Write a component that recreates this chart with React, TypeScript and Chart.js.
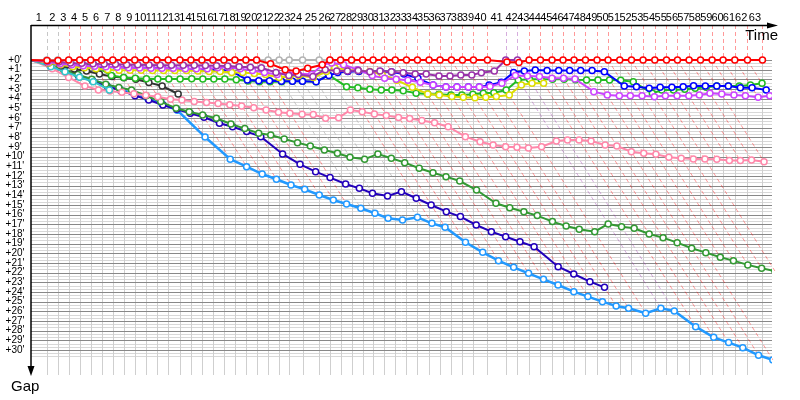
import React, { useEffect, useRef } from "react";
import { Chart, registerables } from "chart.js";

Chart.register(...registerables);

// Leader lap times (minutes), laps 1..63
const lapTimes = [
  2.60, 1.82, 1.82, 1.82, 1.82, 1.82, 1.84, 1.82, 1.82, 1.85,
  1.82, 1.87, 1.94, 1.82, 1.82, 1.82, 1.82, 1.82, 1.82, 1.77,
  1.92, 1.82, 1.66, 2.22, 2.75, 1.77, 1.77, 1.82, 1.82, 1.75,
  1.82, 1.85, 1.85, 1.82, 1.92, 1.82, 1.89, 1.82, 1.82, 2.32,
  3.03, 1.94, 1.92, 1.89, 1.92, 1.82, 1.82, 1.89, 1.92, 1.82,
  1.94, 1.94, 1.92, 1.94, 1.94, 1.82, 1.92, 1.89, 1.92, 1.82,
  1.94, 2.10, 2.48,
];

const gapTicks = [0, 1, 2, 3, 4, 5, 6, 7, 8, 9, 10, 11, 12, 13, 14, 15, 16, 17, 18, 19, 20, 21, 22, 23, 24, 25, 26, 27, 28, 29, 30];
const lapLabels = lapTimes.map((_, i) => String(i + 1));

// Gaps (minutes) to the leader at each completed lap, lap 0 = start
const redGaps = [0, 0.05, 0.05,
  0, 0, 0, 0, 0, 0, 0, 0, 0, 0, 0, 0, 0, 0, 0, 0, 0, 0,
  0.4, 1.0, 1.15, 0.85, 0.5,
  0, 0, 0, 0, 0, 0, 0, 0, 0, 0, 0, 0, 0, 0, 0,
  0.2, 0.25,
  0, 0, 0, 0, 0, 0, 0, 0, 0, 0, 0, 0, 0, 0, 0, 0, 0, 0, 0, 0, 0];
const grayGaps = [0, 0, 0,
  0.03, 0.03, 0.03, 0.03, 0.03, 0.03, 0.03, 0.03, 0.03, 0.03, 0.03, 0.03, 0.03, 0.03, 0.03, 0.03, 0.03, 0.03,
  0, 0, 0, 0, 0, 0.03, 0.03, 0.03];
const purpleGaps = [0, 0.1, 0.2, 0.3, 0.35, 0.4, 0.42, 0.45, 0.48, 0.5, 0.52,
  0.55, 0.55, 0.55, 0.55, 0.58, 0.6, 0.62, 0.7, 0.75, 0.8,
  1.3, 1.6, 1.5, 1.7, 1.0, 1.14, 1.14, 1.1, 1.21, 1.14,
  1.21, 1.31, 1.45, 1.45, 1.65, 1.65, 1.55, 1.55, 1.31, 1.14,
  0, 0];
const magentaGaps = [0, 0.2, 0.4, 0.5, 0.6, 0.65, 0.7, 0.75, 0.8, 0.82, 0.85,
  0.85, 0.85, 0.9, 0.9, 0.9, 0.8, 0.75, 0.9, 1.1, 1.3,
  1.5, 1.3, 1.4, 1.5, 0.5, 0.3, 0.5, 1.0, 1.6, 1.9,
  2.0, 2.1, 2.3, 2.6, 2.8, 2.8, 2.8, 2.8, 2.75, 2.4,
  1.6, 1.65, 1.72, 1.9, 1.9, 1.97, 3.28, 3.62, 3.69, 3.69,
  3.69, 3.8, 3.69, 3.69, 3.69, 3.62, 3.45, 3.52, 3.62, 3.69,
  3.86, 3.69];
const yellowGaps = [0, 0.3, 0.5, 0.7, 0.8, 0.9, 1.0, 1.05, 1.05, 1.05, 1.1,
  1.1, 1.1, 1.1, 1.15, 1.2, 1.2, 1.3, 1.3, 1.4, 1.5,
  1.8, 1.7, 1.6, 1.8, 1.2, 0.8, 1.0, 1.1, 1.2, 1.5,
  2.1, 2.83, 3.52, 3.62, 3.79, 3.86, 3.9, 3.86, 3.79, 3.62,
  2.59, 2.41, 2.41];
const blueGaps = [0, 0.3, 0.5, 0.6, 0.65, 0.7, 0.75, 0.75, 0.8, 0.8, 0.82,
  0.85, 0.9, 0.9, 0.95, 1.0, 1.0, 1.1, 2.07, 2.14, 2.14,
  2.2, 2.2, 2.2, 2.24, 1.6, 1.3, 1.2, 1.2, 1.25, 1.2,
  1.25, 1.45, 1.9, 2.6, 2.8, 2.8, 2.8, 2.8, 2.6, 2.3,
  1.3, 1.14, 1.03, 1.1, 1.1, 1.1, 1.1, 1.1, 1.21, 2.69,
  2.76, 2.93, 2.83, 2.83, 2.76, 2.66, 2.69, 2.69, 2.69, 2.86,
  2.86, 3.1];
const greenGaps = [0, 0.15, 0.3, 0.4, 0.45, 0.5, 1.6, 1.8, 1.9, 1.93, 1.97,
  1.97, 1.97, 1.95, 1.97, 1.97, 1.97, 2.05, 2.17, 2.24, 2.24,
  2.24, 2.2, 2.2, 2.24, 1.55, 2.76, 2.86, 3.03, 3.1, 3.1,
  3.17, 3.45, 3.52, 3.55, 3.62, 3.62, 3.55, 3.45, 3.38, 3.1,
  2.07, 2.0, 2.0, 2.0, 2.0, 2.05, 2.07, 2.07, 2.07, 2.1,
  2.24, 3.45, 3.1, 3.1, 3.03, 2.93, 2.83, 2.69, 2.69, 2.69,
  2.59, 2.41];
const blackGaps = [0, 0.25, 0.6, 0.93, 1.14, 1.45, 1.72, 1.83, 2.0, 2.34, 2.69, 3.52];
const tealGaps = [0, 0.69, 1.21, 1.79, 2.24, 3.1];
const pinkGaps = [0, 0.9, 1.8, 2.69, 3.1, 3.2, 3.35, 3.5, 3.65, 3.8, 4.07,
  4.14, 4.3, 4.4, 4.5, 4.62, 4.76, 4.95, 5.17, 5.4, 5.52,
  5.62, 5.65, 6.03, 5.97, 5.17, 5.35, 5.6, 5.75, 5.95, 6.05,
  6.25, 6.5, 6.9, 7.93, 8.45, 8.79, 8.97, 9.03, 9.1, 8.97,
  8.38, 8.28, 8.28, 8.38, 8.79, 8.9, 9.49, 9.65, 9.75, 10.07,
  10.17, 10.24, 10.24, 10.27, 10.41, 10.41, 10.34, 10.52];
const darkGreenGaps = [0, 0.5, 1.0, 1.5, 2.0, 2.5, 2.85, 3.1, 3.7, 4.3, 5.0,
  5.35, 5.7, 6.03, 6.62, 7.1, 7.58, 7.76, 8.17, 8.55, 8.9,
  9.31, 9.65, 10.07, 10.27, 9.72, 10.17, 10.62, 11.2, 11.66, 12.07,
  12.52, 13.45, 14.82, 15.28, 15.7, 16.1, 16.72, 17.17, 17.52, 17.76,
  16.96, 17.24, 17.41, 18.0, 18.38, 18.9, 19.48, 19.93, 20.41, 20.76,
  21.2, 21.55, 21.83];
const navyGaps = [0, 0.55, 1.15, 1.7, 2.2, 2.69, 3.17, 3.69, 4.14, 4.66, 5.1,
  5.52, 5.93, 6.55, 6.9, 7.41, 7.93, 9.72, 10.79, 11.55, 12.17,
  12.83, 13.28, 13.79, 14.07, 13.62, 14.3, 15.0, 15.69, 16.2, 17.07,
  17.76, 18.28, 18.8, 19.31, 21.38, 22.14, 22.93, 23.52];
const lightBlueGaps = [0, 0.6, 1.1, 1.6, 2.05, 2.55, 3.0, 3.5, 4.0, 4.5, 5.2,
  7.97, 10.27, 11.04, 11.8, 12.34, 12.93, 13.38, 13.97, 14.48, 14.9,
  15.34, 15.86, 16.38, 16.55, 16.27, 16.9, 17.3, 18.86, 19.9, 20.76,
  21.45, 22.07, 22.69, 23.28, 23.97, 24.48, 25.0, 25.45, 25.69, 26.2,
  25.69, 25.97, 27.59, 28.69, 29.24, 29.76, 30.55, 31.03];

type Series = { name: string; color: string; gaps: number[]; width: number; lapAlpha: number };
const series: Series[] = [
  { name: "red", color: "#ff0000", gaps: redGaps, width: 2, lapAlpha: 0.4 },
  { name: "gray", color: "#b4b4b4", gaps: grayGaps, width: 2, lapAlpha: 0.75 },
  { name: "purple", color: "#9933aa", gaps: purpleGaps, width: 2, lapAlpha: 0.4 },
  { name: "magenta", color: "#cc44ff", gaps: magentaGaps, width: 2, lapAlpha: 0.4 },
  { name: "yellow", color: "#dddd00", gaps: yellowGaps, width: 2, lapAlpha: 0.4 },
  { name: "blue", color: "#0000ff", gaps: blueGaps, width: 2, lapAlpha: 0.4 },
  { name: "green", color: "#22bb22", gaps: greenGaps, width: 2, lapAlpha: 0.4 },
  { name: "black", color: "#333333", gaps: blackGaps, width: 2, lapAlpha: 0.4 },
  { name: "teal", color: "#33c6cc", gaps: tealGaps, width: 2, lapAlpha: 0.4 },
  { name: "pink", color: "#ff88aa", gaps: pinkGaps, width: 2, lapAlpha: 0.4 },
  { name: "darkGreen", color: "#339933", gaps: darkGreenGaps, width: 2, lapAlpha: 0.4 },
  { name: "navy", color: "#2200bb", gaps: navyGaps, width: 2, lapAlpha: 0.4 },
  { name: "lightBlue", color: "#2299ff", gaps: lightBlueGaps, width: 2.5, lapAlpha: 0.4 },
];

const lapStarts: number[] = [0];
lapTimes.forEach((t) => lapStarts.push(lapStarts[lapStarts.length - 1] + t));

function hexToRgba(hex: string, a: number) {
  const n = parseInt(hex.slice(1), 16);
  return `rgba(${(n >> 16) & 255},${(n >> 8) & 255},${n & 255},${a})`;
}

function lapInfo(m: number) {
  let leader: Series | null = null;
  let minG = Infinity;
  let maxG = 0;
  for (const s of series) {
    if (m < s.gaps.length) {
      const g = s.gaps[m];
      if (g < minG) { minG = g; leader = s; }
      if (g > maxG) maxG = g;
    }
  }
  return { leader, maxG };
}

const X_MAX = 122.7;
const Y_MIN = -3.62;
const Y_MAX = 32.59;
const FONT = '"Liberation Sans", Arial, sans-serif';

const gapPlugin = {
  id: "gapChart",
  beforeDatasetsDraw(chart: any) {
    const { ctx, chartArea: a, scales } = chart;
    const X = (v: number) => scales.x.getPixelForValue(v);
    const Y = (v: number) => scales.y.getPixelForValue(v);
    const y0 = Math.round(Y(0)) + 0.5;
    ctx.save();
    ctx.lineWidth = 1;
    ctx.strokeStyle = "#d8d8d8";
    ctx.beginPath();
    for (let k = 1; k < 93; k++) {
      if (k % 3 === 0) continue;
      const yy = Math.round(Y(k / 3)) + 0.5;
      ctx.moveTo(a.left, yy);
      ctx.lineTo(a.right, yy);
    }
    ctx.stroke();
    ctx.strokeStyle = "#cfcfcf";
    ctx.beginPath();
    for (let m = 1; m < lapStarts.length; m++) {
      const xx = Math.round(X(lapStarts[m])) + 0.5;
      ctx.moveTo(xx, y0);
      ctx.lineTo(xx, a.bottom);
    }
    ctx.stroke();
    ctx.strokeStyle = "#888888";
    ctx.beginPath();
    gapTicks.forEach((t) => {
      const yy = Math.round(Y(t)) + 0.5;
      ctx.moveTo(a.left, yy);
      ctx.lineTo(a.right, yy);
    });
    ctx.stroke();
    ctx.setLineDash([4, 3]);
    for (let m = 1; m < lapStarts.length; m++) {
      const { leader, maxG } = lapInfo(m);
      if (!leader) continue;
      ctx.strokeStyle = hexToRgba(leader.color, leader.lapAlpha);
      const xx = Math.round(X(lapStarts[m])) + 0.5;
      ctx.beginPath();
      ctx.moveTo(xx, a.top);
      ctx.lineTo(xx, y0);
      if (maxG > 0) ctx.lineTo(X(lapStarts[m] + maxG), Y(maxG));
      ctx.stroke();
    }
    ctx.setLineDash([]);
    ctx.restore();
  },
  afterDatasetsDraw(chart: any) {
    const { ctx, chartArea: a, scales } = chart;
    const X = (v: number) => scales.x.getPixelForValue(v);
    const Y = (v: number) => scales.y.getPixelForValue(v);
    ctx.save();
    ctx.strokeStyle = "#000";
    ctx.fillStyle = "#000";
    ctx.lineWidth = 1.5;
    const ay = Math.round(a.top) + 0.5;
    ctx.beginPath();
    ctx.moveTo(a.left, ay);
    ctx.lineTo(a.right - 4, ay);
    ctx.stroke();
    ctx.beginPath();
    ctx.moveTo(a.right + 6, ay);
    ctx.lineTo(a.right - 5, ay - 3);
    ctx.lineTo(a.right - 5, ay + 3);
    ctx.closePath();
    ctx.fill();
    const ax = a.left;
    ctx.beginPath();
    ctx.moveTo(ax, a.top);
    ctx.lineTo(ax, a.bottom - 8);
    ctx.stroke();
    ctx.beginPath();
    ctx.moveTo(ax, a.bottom + 1);
    ctx.lineTo(ax - 3.5, a.bottom - 9);
    ctx.lineTo(ax + 3.5, a.bottom - 9);
    ctx.closePath();
    ctx.fill();
    ctx.font = `11px ${FONT}`;
    ctx.textAlign = "center";
    ctx.textBaseline = "middle";
    lapLabels.forEach((lab, i) => {
      ctx.fillText(lab, (X(lapStarts[i]) + X(lapStarts[i + 1])) / 2, a.top - 7);
    });
    ctx.font = `10px ${FONT}`;
    gapTicks.forEach((t) => {
      ctx.fillText(`+${t}'`, a.left - 16, Y(t));
    });
    ctx.font = `15px ${FONT}`;
    ctx.textAlign = "right";
    ctx.textBaseline = "top";
    ctx.fillText("Time", a.right + 6, a.top + 3);
    ctx.textAlign = "left";
    ctx.fillText("Gap", 11, a.bottom + 4);
    ctx.restore();
  },
};

export default function App() {
  const ref = useRef<HTMLCanvasElement>(null);
  useEffect(() => {
    const canvas = ref.current;
    if (!canvas) return;
    const chart = new Chart(canvas, {
      type: "line",
      data: {
        datasets: series.map((s) => ({
          label: s.name,
          data: s.gaps.map((g, m) => ({ x: lapStarts[m] + g, y: g })),
          borderColor: s.color,
          backgroundColor: s.color,
          borderWidth: s.width,
          pointRadius: (c: any) => (c.dataIndex === 0 ? 0 : 3),
          pointBackgroundColor: "#ffffff",
          pointBorderColor: s.color,
          pointBorderWidth: 1.5,
          tension: 0,
          fill: false,
        })),
      },
      options: {
        responsive: false,
        animation: false,
        layout: { padding: { left: 31, top: 25, right: 28, bottom: 25 } },
        scales: {
          x: { type: "linear", display: false, min: 0, max: X_MAX },
          y: { type: "linear", display: false, min: Y_MIN, max: Y_MAX, reverse: true },
        },
        plugins: { legend: { display: false }, tooltip: { enabled: false } },
      },
      plugins: [gapPlugin],
    } as any);
    return () => chart.destroy();
  }, []);
  return (
    <div style={{ position: "absolute", left: 0, top: 0, width: 800, height: 400 }}>
      <canvas ref={ref} width={800} height={400} style={{ display: "block" }} />
    </div>
  );
}
